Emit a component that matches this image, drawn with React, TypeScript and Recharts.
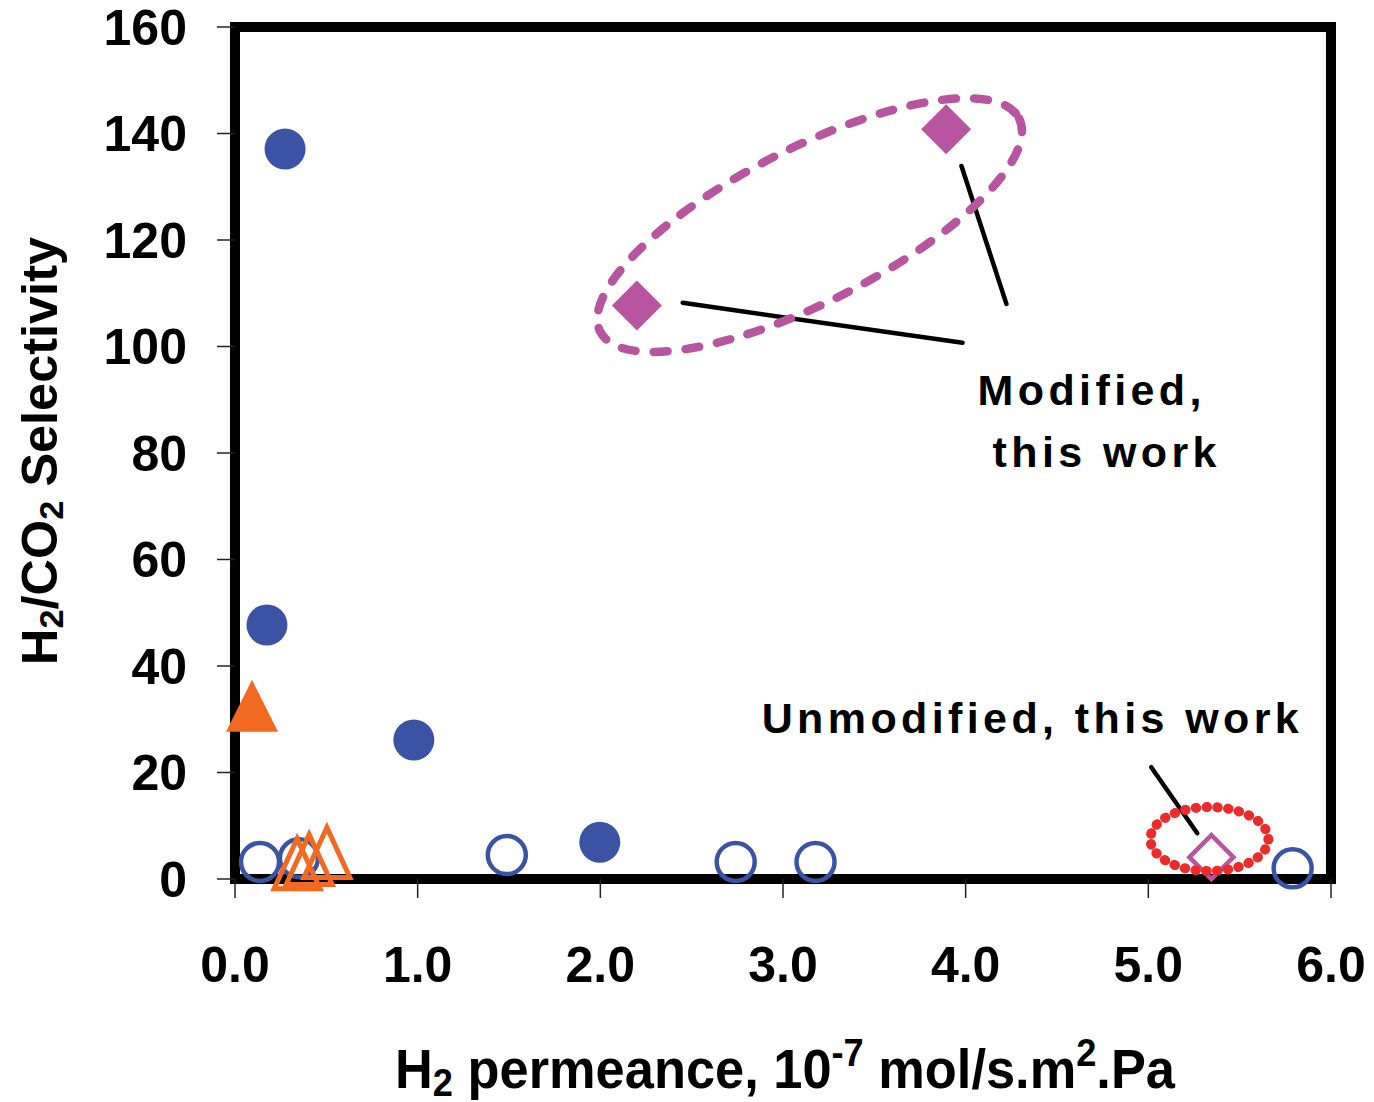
import React from 'react';
import {
  ScatterChart,
  Scatter,
  XAxis,
  YAxis,
  ReferenceArea,
  ReferenceLine,
  ReferenceDot,
  Label,
} from 'recharts';

// ---- data ----
const X_TICKS = [0, 1, 2, 3, 4, 5, 6];
const Y_TICKS = [0, 20, 40, 60, 80, 100, 120, 140, 160];

const filledCircles = [
  { x: 0.274, y: 137.1 },
  { x: 0.175, y: 47.7 },
  { x: 0.979, y: 26.1 },
  { x: 1.997, y: 6.9 },
];
const openCircles = [
  { x: 0.137, y: 3.2 },
  { x: 0.35, y: 3.9 },
  { x: 1.488, y: 4.5 },
  { x: 2.741, y: 3.2 },
  { x: 3.178, y: 3.2 },
  { x: 5.79, y: 2.0 },
];
const filledTriangles = [{ x: 0.093, y: 30.9 }];
const openTriangles = [
  { x: 0.34, y: 1.3 },
  { x: 0.406, y: 2.1 },
  { x: 0.503, y: 3.4 },
];
const modifiedDiamonds = [
  { x: 2.2, y: 107.7 },
  { x: 3.893, y: 140.8 },
];
const unmodifiedDiamonds = [{ x: 5.345, y: 4.1 }];

// annotation anchors (data coordinates)
const modifiedEllipse = { x: 3.146, y: 122.8 };
const unmodifiedEllipse = { x: 5.334, y: 7.5 };
const pointerLines = [
  [{ x: 2.451, y: 108.2 }, { x: 3.983, y: 100.7 }],
  [{ x: 3.977, y: 133.9 }, { x: 4.223, y: 108.0 }],
  [{ x: 5.016, y: 21.0 }, { x: 5.268, y: 8.6 }],
];
const annotationTexts = [
  { x: 4.065, y: 89.0, text: 'Modified,' },
  { x: 4.147, y: 77.4, text: 'this work' },
  { x: 2.883, y: 27.4, text: 'Unmodified, this work' },
];

// ---- styles ----
const FONT = '"Liberation Sans", Arial, Helvetica, sans-serif';
const BLUE = '#3A53A4';
const ORANGE = '#F26A21';
const MAGENTA = '#B955A0';
const RED = '#EE2A2A';

const FilledCircle = (p: any) => <circle cx={p.cx} cy={p.cy} r={20.5} fill={BLUE} />;
const OpenCircle = (p: any) => (
  <circle cx={p.cx} cy={p.cy} r={19} fill="none" stroke={BLUE} strokeWidth={4.5} />
);
const triPath = (cx: number, cy: number, w: number, h: number) =>
  `M${cx},${cy - (2 * h) / 3} L${cx + w / 2},${cy + h / 3} L${cx - w / 2},${cy + h / 3} Z`;
const FilledTriangle = (p: any) => <path d={triPath(p.cx, p.cy, 52, 52)} fill={ORANGE} />;
const OpenTriangle = (p: any) => (
  <path
    d={triPath(p.cx, p.cy, 46, 50)}
    fill="none"
    stroke={ORANGE}
    strokeWidth={5}
    strokeLinejoin="miter"
  />
);
const diaPath = (cx: number, cy: number, r: number) =>
  `M${cx},${cy - r} L${cx + r},${cy} L${cx},${cy + r} L${cx - r},${cy} Z`;
const FilledDiamond = (p: any) => <path d={diaPath(p.cx, p.cy, 25)} fill={MAGENTA} />;
const OpenDiamond = (p: any) => (
  <path d={diaPath(p.cx, p.cy, 22)} fill="none" stroke={MAGENTA} strokeWidth={4.5} />
);

const DashedEllipse = (p: any) => (
  <ellipse
    cx={p.cx}
    cy={p.cy}
    rx={235}
    ry={77}
    transform={`rotate(-27 ${p.cx} ${p.cy})`}
    fill="none"
    stroke={MAGENTA}
    strokeWidth={8.5}
    strokeDasharray="14 18"
    strokeLinecap="round"
  />
);
const DottedEllipse = (p: any) => (
  <ellipse
    cx={p.cx}
    cy={p.cy}
    rx={59}
    ry={32}
    fill="none"
    stroke={RED}
    strokeWidth={10}
    strokeDasharray="0.5 10.3"
    strokeLinecap="round"
  />
);

const makeTextShape = (text: string) => (p: any) =>
  (
    <text
      x={p.cx}
      y={p.cy}
      fontFamily={FONT}
      fontWeight="bold"
      fontSize={43}
      letterSpacing={4.4}
      fill="#000"
      textAnchor="start"
    >
      {text}
    </text>
  );

const XLabel = (props: any) => {
  const vb = props.viewBox || { x: 0, y: 0, width: 0 };
  const cx = vb.x + vb.width / 2 + 2;
  const y = vb.y + 209;
  return (
    <text
      x={cx}
      y={y}
      textAnchor="middle"
      fontFamily={FONT}
      fontWeight="bold"
      fontSize={55}
      fill="#000"
      textLength={780}
      lengthAdjust="spacingAndGlyphs"
    >
      <tspan>H</tspan>
      <tspan fontSize={38} dy={8}>2</tspan>
      <tspan dy={-8}> permeance, 10</tspan>
      <tspan fontSize={38} dy={-22}>-7</tspan>
      <tspan dy={22}> mol/s.m</tspan>
      <tspan fontSize={38} dy={-22}>2</tspan>
      <tspan dy={22}>.Pa</tspan>
    </text>
  );
};

const YLabel = (props: any) => {
  const vb = props.viewBox || { x: 0, y: 0, height: 0 };
  const cy = vb.y + vb.height / 2 - 2;
  const x = 49;
  return (
    <text
      x={x}
      y={cy}
      transform={`rotate(-90 ${x} ${cy})`}
      textAnchor="middle"
      fontFamily={FONT}
      fontWeight="bold"
      fontSize={50}
      fill="#000"
      textLength={428}
      lengthAdjust="spacingAndGlyphs"
    >
      <tspan>H</tspan>
      <tspan fontSize={34} dy={6}>2</tspan>
      <tspan dy={-6}>/CO</tspan>
      <tspan fontSize={34} dy={6}>2</tspan>
      <tspan dy={-6}> Selectivity</tspan>
    </text>
  );
};

export default function App() {
  const tickStyle = { fill: '#000', fontSize: 50, fontWeight: 'bold', fontFamily: FONT };
  return (
    <div style={{ width: 1366, height: 1094 }}>
      <ScatterChart
        width={1366}
        height={1094}
        margin={{ top: 19, right: 43, bottom: 23, left: 0 }}
      >
        <XAxis
          type="number"
          dataKey="x"
          domain={[0, 6]}
          ticks={X_TICKS}
          interval={0}
          tickFormatter={(v: number) => v.toFixed(1)}
          tickSize={19}
          tickMargin={48}
          axisLine={false}
          tickLine={{ stroke: '#222', strokeWidth: 1.5 }}
          tick={tickStyle}
          height={200}
        >
          <Label content={XLabel} />
        </XAxis>
        <YAxis
          type="number"
          dataKey="y"
          domain={[0, 160]}
          ticks={Y_TICKS}
          interval={0}
          tickSize={18}
          tickMargin={30}
          axisLine={false}
          tickLine={{ stroke: '#222', strokeWidth: 1.5 }}
          tick={tickStyle}
          width={227}
        >
          <Label content={YLabel} />
        </YAxis>
        <ReferenceArea
          x1={0}
          x2={6}
          y1={0}
          y2={160}
          fill="none"
          fillOpacity={0}
          stroke="#000"
          strokeWidth={10}
        />
        <Scatter data={filledCircles} shape={FilledCircle} isAnimationActive={false} />
        <Scatter data={openCircles} shape={OpenCircle} isAnimationActive={false} />
        <Scatter data={filledTriangles} shape={FilledTriangle} isAnimationActive={false} />
        <Scatter data={openTriangles} shape={OpenTriangle} isAnimationActive={false} />
        <Scatter data={modifiedDiamonds} shape={FilledDiamond} isAnimationActive={false} />
        <Scatter data={unmodifiedDiamonds} shape={OpenDiamond} isAnimationActive={false} />
        {pointerLines.map((seg, i) => (
          <ReferenceLine
            key={`l${i}`}
            segment={seg}
            stroke="#000"
            strokeWidth={4.5}
            strokeLinecap="round"
          />
        ))}
        <ReferenceDot x={modifiedEllipse.x} y={modifiedEllipse.y} shape={DashedEllipse} />
        <ReferenceDot x={unmodifiedEllipse.x} y={unmodifiedEllipse.y} shape={DottedEllipse} />
        {annotationTexts.map((t, i) => (
          <ReferenceDot key={`t${i}`} x={t.x} y={t.y} shape={makeTextShape(t.text)} />
        ))}
      </ScatterChart>
    </div>
  );
}
